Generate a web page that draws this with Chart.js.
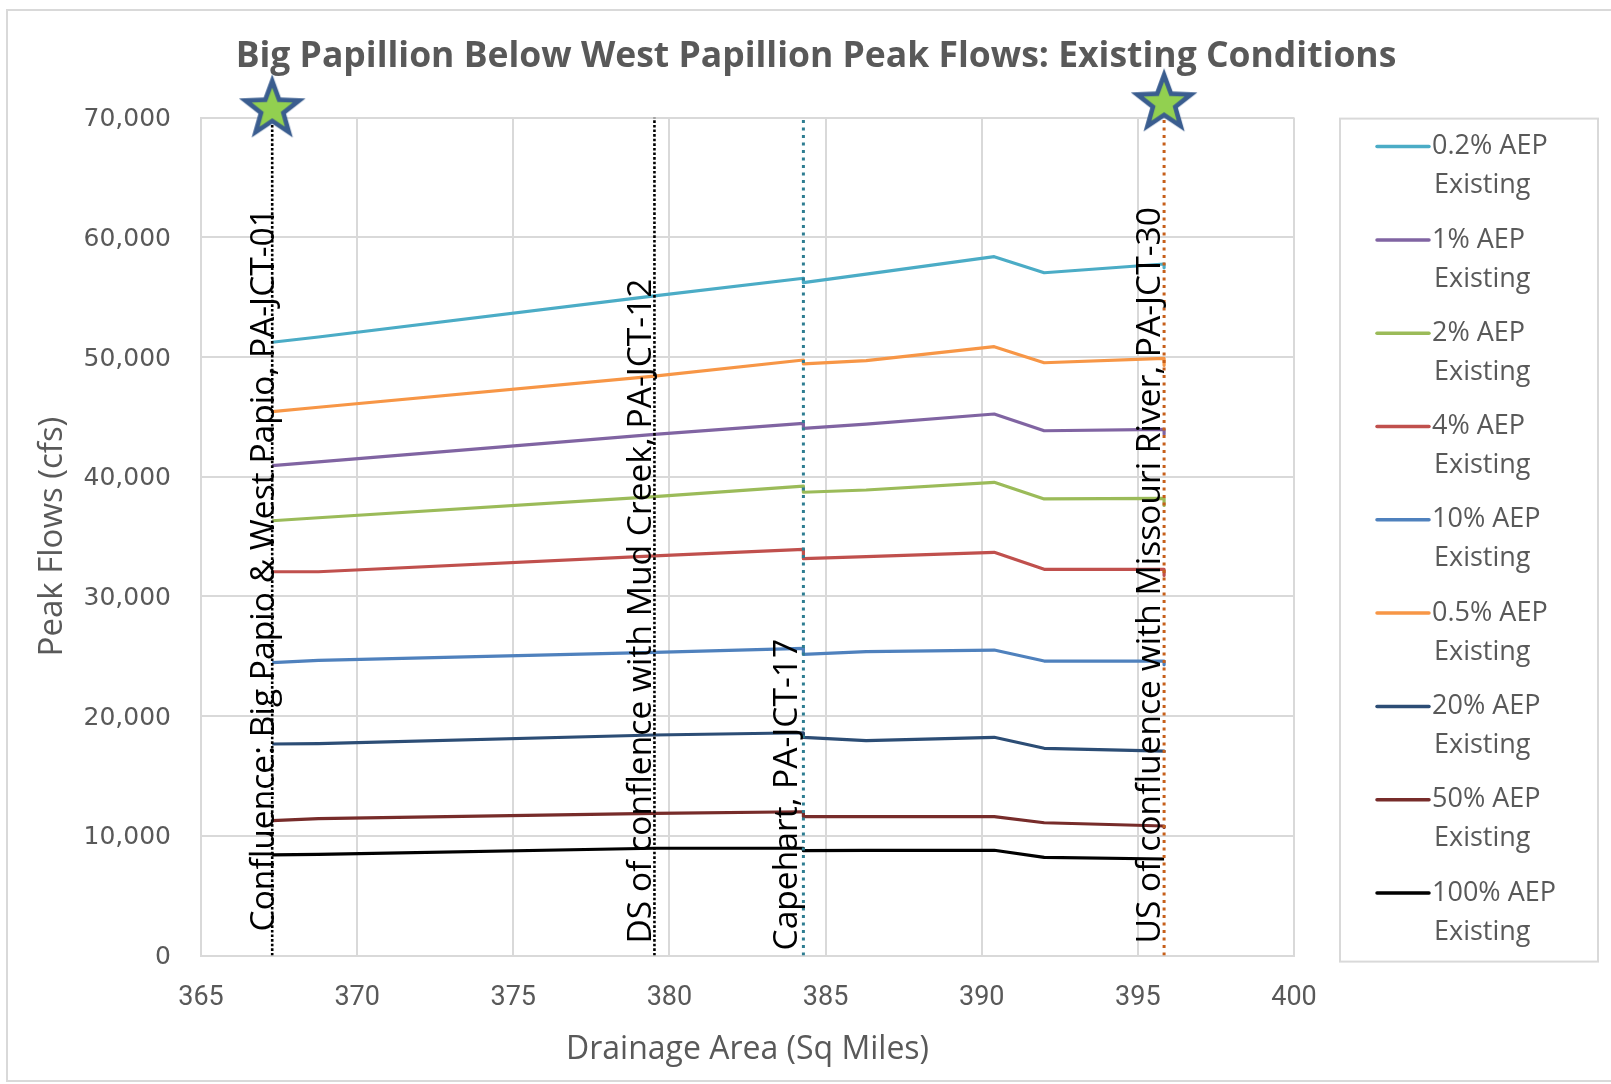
<!DOCTYPE html>
<html>
<head>
<meta charset="utf-8">
<title>Big Papillion Below West Papillion Peak Flows</title>
<script src="https://cdn.jsdelivr.net/npm/chart.js@4.4.1/dist/chart.umd.min.js"></script>
<style>
  html, body { margin: 0; padding: 0; background: #ffffff; }
  #wrap { width: 1611px; height: 1084px; position: relative; }
</style>
</head>
<body>
<div id="wrap"><canvas id="chart" width="1611" height="1084"></canvas></div>
<script>
// Drainage area (sq mi) at each computation point along the reach.
// Repeated areas carry the step in flow at a junction.
const drainageArea = [367.28, 368.76, 379.52, 384.29, 384.29, 386.3, 390.4, 392.0, 395.84, 395.84];

const seriesNames = [
  '0.2% AEP Existing', '1% AEP Existing', '2% AEP Existing', '4% AEP Existing',
  '10% AEP Existing', '0.5% AEP Existing', '20% AEP Existing', '50% AEP Existing',
  '100% AEP Existing'
];

// Peak flows (cfs) for each annual exceedance probability
const flow0p2 = [51230, 51670, 55100, 56580, 56210, 56930, 58380, 57040, 57770, 57450];
const flow1   = [40920, 41240, 43540, 44460, 44040, 44400, 45240, 43840, 43960, 43550];
const flow2   = [36320, 36570, 38330, 39220, 38700, 38890, 39530, 38140, 38190, 37600];
const flow4   = [32060, 32060, 33380, 33930, 33150, 33320, 33680, 32260, 32260, 31750];
const flow10  = [24460, 24660, 25330, 25660, 25160, 25380, 25520, 24600, 24600, 24300];
const flow0p5 = [45430, 45800, 48410, 49750, 49420, 49690, 50860, 49520, 49890, 49300];
const flow20  = [17670, 17700, 18420, 18610, 18230, 17950, 18230, 17310, 17080, 17050];
const flow50  = [11260, 11430, 11880, 12010, 11600, 11600, 11600, 11090, 10820, 10700];
const flow100 = [8400, 8450, 8960, 8960, 8760, 8790, 8790, 8200, 8060, 8060];

// Junctions marked on the profile
const junctionArea = [367.28, 379.52, 384.29, 395.84];
const junctionNames = [
  'Confluence: Big Papio & West Papio, PA-JCT-01',
  'DS of conflence with Mud Creek, PA-JCT-12',
  'Capehart, PA-JCT-17',
  'US of confluence with Missouri River, PA-JCT-30'
];

// Star markers at the upstream and downstream ends of the reach
const starArea = [367.28, 395.84];
const starFlow = [70700, 71200];

// Axis ticks
const xTickValues = [365, 370, 375, 380, 385, 390, 395, 400];
const yTickValues = [0, 10000, 20000, 30000, 40000, 50000, 60000, 70000];

// ---- styling ----
const seriesColors = ['#4BACC6', '#8064A2', '#9BBB59', '#C0504D', '#4F81BD',
                      '#F79646', '#2C4D75', '#772C2A', '#000000'];
const junctionStyles = [
  { color: '#000000', width: 2.6, dash: [2.6, 2] },
  { color: '#000000', width: 2.6, dash: [2.6, 2] },
  { color: '#2E7D91', width: 3, dash: [3, 4.5] },
  { color: '#C65F1A', width: 3, dash: [3, 4.5] }
];
// label placement: shift of the baseline from the line, and gap above the x axis
const junctionLabelStyle = [
  { dx: 2, gap: 24 },
  { dx: -3, gap: 12 },
  { dx: -6, gap: 5 },
  { dx: -4, gap: 12 }
];

const GREY_TEXT = '#595959';
const GRID = '#d9d9d9';

function makeStar() {
  const size = 80, c = size / 2;
  const cv = document.createElement('canvas');
  cv.width = size; cv.height = size;
  const g = cv.getContext('2d');
  function starPath(R, r) {
    g.beginPath();
    for (let i = 0; i < 10; i++) {
      const rad = (i % 2 === 0) ? R : r;
      const a = -Math.PI / 2 + i * Math.PI / 5;
      const px = c + rad * Math.cos(a), py = c + rad * Math.sin(a);
      if (i === 0) g.moveTo(px, py); else g.lineTo(px, py);
    }
    g.closePath();
  }
  starPath(35, 14.5);
  g.fillStyle = '#3A5D8F';
  g.fill();
  starPath(21.5, 9);
  g.fillStyle = '#92D050';
  g.fill();
  return cv;
}

const flows = [flow0p2, flow1, flow2, flow4, flow10, flow0p5, flow20, flow50, flow100];

function buildChart() {
  const seriesSets = seriesNames.map((name, i) => ({
    type: 'line',
    label: name,
    data: drainageArea.map((a, j) => ({ x: a, y: flows[i][j] })),
    borderColor: seriesColors[i],
    backgroundColor: seriesColors[i],
    borderWidth: 3.2,
    borderJoinStyle: 'round',
    pointRadius: 0,
    tension: 0,
    fill: false,
    order: 2,
    isSeries: true
  }));

  const junctionSets = junctionArea.map((a, i) => ({
    type: 'line',
    label: junctionNames[i],
    data: [{ x: a, y: yTickValues[0] }, { x: a, y: yTickValues[yTickValues.length - 1] }],
    borderColor: junctionStyles[i].color,
    borderWidth: junctionStyles[i].width,
    borderDash: junctionStyles[i].dash,
    pointRadius: 0,
    fill: false,
    order: 1
  }));

  const star = makeStar();
  const starSet = {
    type: 'scatter',
    label: 'ends',
    data: starArea.map((a, i) => ({ x: a, y: starFlow[i] })),
    pointStyle: star,
    pointRadius: 36,
    clip: false,
    order: 0
  };

  const annotate = {
    id: 'annotate',
    beforeDraw(chart) {
      const ctx = chart.ctx;
      ctx.save();
      ctx.fillStyle = '#ffffff';
      ctx.fillRect(0, 0, chart.width, chart.height);
      ctx.strokeStyle = GRID;
      ctx.lineWidth = 2;
      ctx.strokeRect(7, 10, chart.width + 20, chart.height - 13);
      ctx.restore();
    },
    afterDatasetsDraw(chart) {
      const ctx = chart.ctx;
      const xs = chart.scales.x;
      const bottom = chart.chartArea.bottom;
      ctx.save();
      ctx.fillStyle = '#000000';
      ctx.font = '33.6px "Open Sans"';
      ctx.textAlign = 'left';
      ctx.textBaseline = 'alphabetic';
      junctionArea.forEach((a, i) => {
        const px = xs.getPixelForValue(a) + junctionLabelStyle[i].dx;
        ctx.save();
        ctx.translate(px, bottom - junctionLabelStyle[i].gap);
        ctx.rotate(-Math.PI / 2);
        ctx.fillText(junctionNames[i], 0, 0);
        ctx.restore();
      });
      ctx.restore();
    },
    afterDraw(chart) {
      // legend with two-line entries
      const ctx = chart.ctx;
      const area = chart.chartArea;
      const left = area.right + 46, top = area.top;
      const boxW = 258, step = 93.3, firstY = top + 29, lineGap = 39;
      ctx.save();
      ctx.strokeStyle = GRID;
      ctx.lineWidth = 2;
      ctx.strokeRect(left, top + 1, boxW, 843);
      ctx.font = '27px "Open Sans"';
      ctx.fillStyle = GREY_TEXT;
      ctx.textBaseline = 'middle';
      ctx.textAlign = 'left';
      chart.data.datasets.filter(d => d.isSeries).forEach((d, i) => {
        const y = firstY + i * step;
        ctx.strokeStyle = d.borderColor;
        ctx.lineWidth = 3.5;
        ctx.lineCap = 'round';
        ctx.beginPath();
        ctx.moveTo(left + 37, y);
        ctx.lineTo(left + 89, y);
        ctx.stroke();
        const words = d.label.split(' ');
        const last = words.pop();
        ctx.fillText(words.join(' '), left + 92, y);
        ctx.fillText(last, left + 94, y + lineGap);
      });
      ctx.restore();
    }
  };

  new Chart(document.getElementById('chart'), {
    data: { datasets: [...seriesSets, ...junctionSets, starSet] },
    options: {
      responsive: false,
      animation: false,
      devicePixelRatio: 1,
      layout: { padding: { left: 21, right: 0, top: 0, bottom: 0 } },
      plugins: {
        legend: { display: false },
        tooltip: { enabled: false },
        title: {
          display: true,
          text: 'Big Papillion Below West Papillion Peak Flows: Existing Conditions',
          color: GREY_TEXT,
          font: { family: '"Open Sans"', size: 35.5, weight: 'bold' },
          padding: { top: 35.7, bottom: 39.3 }
        }
      },
      scales: {
        x: {
          type: 'linear',
          position: 'bottom',
          min: xTickValues[0],
          max: xTickValues[xTickValues.length - 1],
          afterBuildTicks: s => { s.ticks = xTickValues.map(v => ({ value: v })); },
          afterFit: s => { s.height = 128.5; },
          grid: { color: GRID, lineWidth: 2, drawTicks: false },
          border: { color: GRID, width: 2 },
          ticks: {
            color: GREY_TEXT,
            padding: 27,
            font: { family: 'Roboto', size: 27 },
            callback: v => String(v)
          },
          title: {
            display: true,
            text: 'Drainage Area (Sq Miles)',
            color: GREY_TEXT,
            font: { family: '"Open Sans"', size: 32 },
            padding: { top: 0, bottom: 15 }
          }
        },
        y: {
          type: 'linear',
          position: 'left',
          min: yTickValues[0],
          max: yTickValues[yTickValues.length - 1],
          afterBuildTicks: s => { s.ticks = yTickValues.map(v => ({ value: v })); },
          afterFit: s => { s.width = 180; },
          grid: { color: GRID, lineWidth: 2, drawTicks: false },
          border: { color: GRID, width: 2 },
          ticks: {
            color: GREY_TEXT,
            padding: 30,
            labelOffset: 2,
            font: { family: '"DejaVu Sans"', size: 25 },
            callback: v => Number(v).toLocaleString('en-US')
          },
          title: {
            display: true,
            text: 'Peak Flows (cfs)',
            color: GREY_TEXT,
            font: { family: '"Open Sans"', size: 33 },
            padding: { top: 12, bottom: 0 }
          }
        },
        legendSpace: {
          type: 'linear',
          position: 'right',
          display: true,
          afterFit: s => { s.width = 317; },
          grid: { display: false },
          border: { display: false },
          ticks: { display: false }
        }
      }
    },
    plugins: [annotate]
  });
}

Promise.all([
  document.fonts.load('bold 30px "Open Sans"'),
  document.fonts.load('30px "Open Sans"'),
  document.fonts.load('27px Roboto'),
  document.fonts.load('25px "DejaVu Sans"')
]).then(buildChart, buildChart);
</script>
</body>
</html>
